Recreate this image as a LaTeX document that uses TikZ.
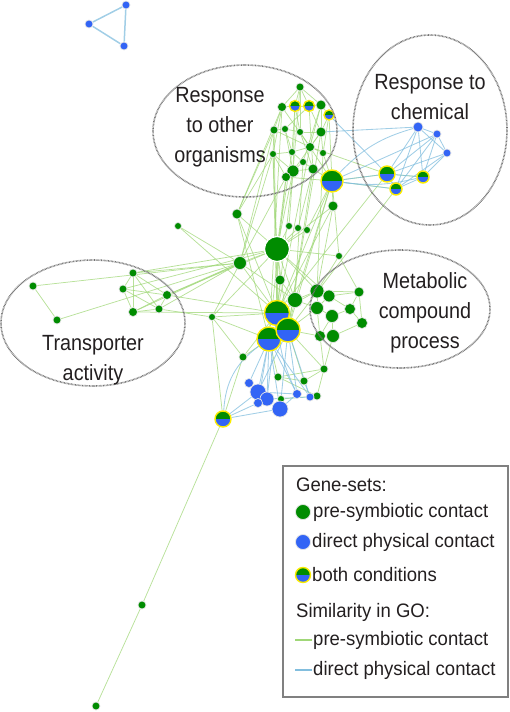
\documentclass[tikz,border=0pt]{standalone}
\usepackage{fontspec}
\setmainfont{Liberation Sans}
\newfontfamily\narrowsans[FakeStretch=0.9]{Liberation Sans}
\newfontfamily\legsans[FakeStretch=0.95]{Liberation Sans}
\usetikzlibrary{backgrounds}

\definecolor{gr}{RGB}{0,140,0}
\definecolor{bl}{RGB}{50,100,245}
\definecolor{yel}{RGB}{250,235,0}
\definecolor{gline}{RGB}{160,215,120}
\definecolor{bline}{RGB}{130,190,222}
\definecolor{ink}{RGB}{35,31,32}

\begin{document}
\begin{tikzpicture}[x=1pt,y=-1pt,
    gn/.style={circle,fill=gr,draw=white!80!gray,line width=0.7pt,inner sep=0pt,minimum size=#1},
    bn/.style={circle,fill=bl,draw=white!80!gray,line width=0.7pt,inner sep=0pt,minimum size=#1},
    both/.style={circle,fill=bl,draw=yel,line width=1.4pt,inner sep=0pt,minimum size=#1,
      path picture={\fill[gr] (path picture bounding box.west) rectangle (path picture bounding box.north east);}},
    gedge/.style={every edge/.style={draw=gline,line width=0.75pt,draw opacity=0.75}},
    bedge/.style={every edge/.style={draw=bline,line width=0.85pt,draw opacity=0.75}},
    ring/.style={draw=black!55,line width=1.6pt,dash pattern=on 0.7pt off 0.7pt},
    blabel/.style={text=ink,align=center,font=\narrowsans\fontsize{22pt}{30pt}\selectfont},
    leg/.style={text=ink,anchor=west,inner sep=0pt,font=\legsans\fontsize{19.5pt}{22pt}\selectfont}]

  \useasboundingbox (0,0) rectangle (510,712);

  % small triangle
  \node[bn=8] (p1) at (126,5) {};
  \node[bn=8] (p2) at (89,24) {};
  \node[bn=8] (p3) at (124,46) {};

  % response to other organisms
  \node[gn=8] (o1) at (300,87) {};
  \node[gn=9] (o2) at (282,107) {};
  \node[both=11] (o3) at (295,106) {};
  \node[both=11] (o4) at (309,106) {};
  \node[gn=10] (o5) at (321,105) {};
  \node[both=10] (o6) at (329,115) {};
  \node[gn=8] (o7) at (274,130) {};
  \node[gn=7] (o8) at (285,129) {};
  \node[gn=7] (o9) at (300,132) {};
  \node[gn=10] (o10) at (321,132) {};
  \node[gn=7] (o11) at (273,154) {};
  \node[gn=7] (o12) at (292,152) {};
  \node[gn=9] (o13) at (310,147) {};
  \node[gn=7] (o14) at (323,153) {};
  \node[gn=7] (o15) at (303,162) {};
  \node[gn=12] (o16) at (293,171) {};
  \node[gn=10] (o17) at (313,169) {};
  \node[gn=9] (o18) at (286,177) {};
  \node[both=22] (o19) at (332,181) {};
  \node[gn=10] (o20) at (333,206) {};

  % response to chemical
  \node[bn=10] (c1) at (418,127) {};
  \node[bn=8] (c2) at (437,134) {};
  \node[bn=8] (c3) at (447,153) {};
  \node[both=16] (c4) at (387,174) {};
  \node[both=12] (c5) at (423,177) {};
  \node[both=12] (c6) at (396,189) {};

  % centre
  \node[gn=10] (h1) at (237,214) {};
  \node[gn=7] (h2) at (289,226) {};
  \node[gn=7] (h3) at (298,228) {};
  \node[gn=7] (h4) at (307,230) {};
  \node[gn=25,draw=white,line width=1.2pt] (h5) at (277,249) {};
  \node[gn=7] (h6) at (339,256) {};
  \node[gn=13] (h7) at (240,263) {};
  \node[gn=10] (h8) at (280,280) {};
  \node[gn=7] (h9) at (178,226) {};
  \node[gn=7] (h10) at (212,317) {};
  \node[both=25] (x1) at (277,313) {};
  \node[both=24] (x3) at (269,339) {};
  \node[both=24] (x2) at (288,330) {};

  % metabolic compound process
  \node[gn=15] (m1) at (295,300) {};
  \node[gn=14] (m2) at (317,291) {};
  \node[gn=12] (m3) at (329,296) {};
  \node[gn=10] (m4) at (359,292) {};
  \node[gn=13] (m5) at (317,308) {};
  \node[gn=13] (m6) at (332,316) {};
  \node[gn=11] (m7) at (350,309) {};
  \node[gn=11] (m8) at (362,323) {};
  \node[gn=11] (m9) at (320,336) {};
  \node[gn=13] (m10) at (333,336) {};

  % lower part
  \node[gn=8] (l1) at (243,357) {};
  \node[gn=8] (l2) at (324,369) {};
  \node[gn=8] (l3) at (278,377) {};
  \node[gn=8] (l4) at (304,381) {};
  \node[gn=8] (l5) at (317,396) {};
  \node[gn=7] (l6) at (281,399) {};
  \node[bn=9] (b1) at (249,383) {};
  \node[bn=16] (b2) at (258,392) {};
  \node[bn=14] (b3) at (267,399) {};
  \node[bn=9] (b4) at (258,403) {};
  \node[bn=16] (b5) at (280,409) {};
  \node[bn=9] (b6) at (297,394) {};
  \node[bn=8] (b7) at (310,397) {};
  \node[both=16] (x4) at (223,419) {};
  \node[gn=8] (tl1) at (142,605) {};
  \node[gn=8] (tl2) at (96,706) {};

  % transporter activity
  \node[gn=8] (t1) at (33,286) {};
  \node[gn=8] (t2) at (57,320) {};
  \node[gn=8] (t3) at (133,273) {};
  \node[gn=8] (t4) at (123,289) {};
  \node[gn=9] (t5) at (167,295) {};
  \node[gn=9] (t6) at (133,312) {};
  \node[gn=8] (t7) at (159,309) {};

  \begin{scope}[on background layer]
  \path[gedge]
    (t1) edge (t2) edge (h7)
    (t2) edge (h7)
    (t3) edge (t4) edge (t5) edge (t6) edge (t7) edge (h5) edge (h7)
    (t4) edge (t5) edge (t6) edge (t7) edge (h5)
    (t5) edge (t6) edge (t7) edge (h5) edge (h7) edge (x1)
    (t6) edge (t7) edge (h7) edge (x1)
    (t7) edge (h10) edge (h7)
    (h9) edge (h7) edge (x1)
    (h1) edge (h5) edge (x1) edge (x3) edge (o7) edge (o11)
    (h7) edge (h5) edge (x1) edge (m1) edge (h10) edge (o11) edge (o7) edge (o18)
    (h10) edge (h5) edge (x1) edge (x3)
    (o1) edge (o2) edge (o3) edge (o4) edge (o5) edge (o16) edge (o9)
    (o2) edge (o3) edge (o7) edge (o11) edge (x3) edge (h1) edge (o13)
    (o3) edge (o4) edge (o9) edge (o16) edge (o12)
    (o4) edge (o5) edge (o10) edge (o17) edge (o8)
    (o5) edge (o6) edge (o10) edge (o13) edge (o15)
    (o6) edge (o10) edge (o19) edge (o14)
    (o7) edge (o8) edge (o11) edge (x1) edge (o13)
    (o8) edge (o9) edge (o12) edge (o16)
    (o9) edge (o10) edge (o13) edge (o17)
    (o10) edge (o13) edge (o14) edge (x2) edge (o16)
    (o11) edge (o12) edge (o18) edge (h5) edge (x1) edge (o16)
    (o12) edge (o13) edge (o15) edge (h5)
    (o13) edge (o14) edge (o19) edge (x1) edge (c4)
    (o14) edge (o19) edge (m2)
    (o15) edge (o16) edge (o17) edge (m1)
    (o16) edge (o17) edge (o18) edge (h5) edge (x1)
    (o17) edge (o19) edge (x2)
    (o18) edge (o19) edge (h5) edge (x3)
    (o19) edge (o20) edge (x1) edge (x2) edge (m1) edge (c4) edge (c6)
    (o20) edge (x1) edge (m2) edge (h5)
    (c6) edge (x2) edge (c4)
    (c4) edge (x1) edge (c5)
    (h2) edge (h5) edge (o16)
    (h3) edge (h5) edge (o17)
    (h4) edge (h5) edge (o19)
    (h5) edge (m1) edge (m2) edge (m3) edge (x1) edge (x2)
    (h6) edge (h5) edge (m2) edge (m4) edge (o19)
    (h8) edge (h5) edge (m1) edge (x1)
    (x1) edge (m1) edge (m2)
    (x2) edge (m1) edge (m5) edge (m9) edge (l2) edge (l4)
    (m1) edge (m2) edge (m5)
    (m2) edge (m3) edge (m4) edge (m5)
    (m3) edge (m4) edge (m5) edge (m7)
    (m4) edge (m7) edge (m8)
    (m5) edge (m6) edge (m9)
    (m6) edge (m7) edge (m9) edge (m10)
    (m7) edge (m8)
    (m8) edge (m10)
    (m9) edge (m10)
    (m10) edge (l2)
    (l1) edge (x3) edge (x1) edge (h10)
    (l2) edge (l3) edge (l4) edge (l5) edge (m9)
    (l3) edge (l4) edge (x3) edge (l5)
    (l5) edge (l6)
    (x4) edge (tl1) edge (l1) edge (h10)
    (tl1) edge (tl2);
  \path[bedge]
    (c1) edge (c2) edge (c3) edge (c4) edge (c5) edge (c6)
    (c2) edge (c3) edge (c4) edge (c5) edge (c6)
    (c3) edge (c4) edge (c5) edge (c6)
    (c4) edge (c5) edge (c6)
    (c5) edge (c6)
    (o6) edge (c4)
    (o10) edge (c1)
    (o19) edge[bend left=15] (c1) edge (c2) edge (c4) edge[bend right=10] (c5) edge (c6)
    (x3) edge (b1) edge (b2) edge (b3) edge (b4) edge (b5) edge (b6) edge (b7)
    (x2) edge (b2) edge (b5) edge (b6) edge (b7)
    (x1) edge (b3) edge[bend right=10] (b6)
    (x4) edge (b2) edge (b4) edge (b5) edge[bend left=25] (x3)
    (b2) edge (b6)
    (b5) edge (b6)
    (b3) edge (b7)
    (l4) edge (b7);
  \path[bedge,every edge/.append style={line width=1.5pt}]
    (p1) edge (p2) edge (p3)
    (p2) edge (p3);
  \end{scope}

  % groups
  \draw[ring] (245,131) ellipse [x radius=92, y radius=66];
  \draw[ring] (430,130) ellipse [x radius=77, y radius=95];
  \draw[ring] (93,323) ellipse [x radius=92, y radius=63];
  \draw[ring] (400,309) ellipse [x radius=90, y radius=59];
  \node[blabel] (lbo) at (220,127) {Response\\to other\\organisms};
  \node[blabel] (lbc) at (430,97) {Response to\\chemical};
  \node[blabel] (lbt) at (93,360) {Transporter\\activity};
  \node[blabel] (lbm) at (425,313) {Metabolic\\compound\\process};

  % legend
  \draw[fill=white,draw=black!50,line width=1.2pt] (283,466) rectangle (508,697);
  \node[leg] (lg0) at (296,485) {Gene-sets:};
  \node[gn=15] (lg1) at (303,512) {};
  \node[leg] (lt1) at (313,512) {pre-symbiotic contact};
  \node[bn=15] (lg2) at (303,542) {};
  \node[leg] (lt2) at (312,542) {direct physical contact};
  \node[both=15] (lg3) at (303,575) {};
  \node[leg] (lt3) at (312,575) {both conditions};
  \node[leg] (lg4) at (296,612) {Similarity in GO:};
  \coordinate (ls1) at (295,640);
  \coordinate (le1) at (312,640);
  \coordinate (ls2) at (295,670);
  \coordinate (le2) at (312,670);
  \draw[draw=gline,line width=1.2pt] (ls1) -- (le1);
  \draw[draw=bline,line width=1.2pt] (ls2) -- (le2);
  \node[leg] (lt4) at (313,640) {pre-symbiotic contact};
  \node[leg] (lt5) at (313,670) {direct physical contact};
\end{tikzpicture}
\end{document}
